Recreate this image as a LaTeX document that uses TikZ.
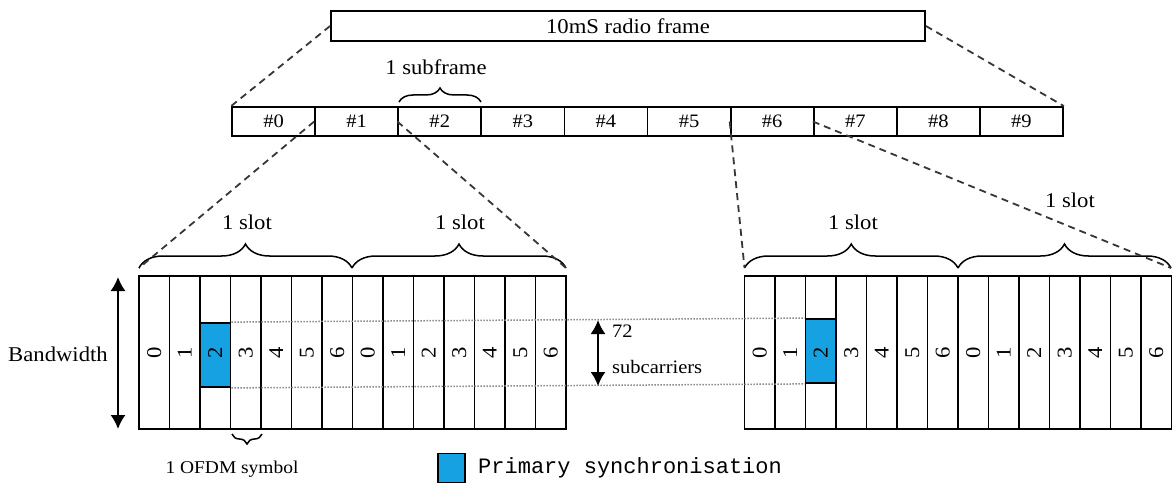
\documentclass[tikz,border=0pt]{standalone}
\usepackage{fontspec}
\setmainfont[FakeStretch=1.08]{Liberation Serif}
\newfontfamily\legendfont{Liberation Mono}
\usetikzlibrary{decorations.pathreplacing,arrows.meta}
\definecolor{psync}{RGB}{22,162,226}
\definecolor{dashc}{RGB}{55,55,55}
\begin{document}
\begin{tikzpicture}[x=1pt,y=-1pt,
  box/.style={draw,line width=1.8pt,inner sep=0pt,minimum height=29pt},
  sfbox/.style={box,minimum width=83.1pt,font=\fontsize{19}{20}\selectfont},
  cell/.style={draw,line width=1.8pt,inner sep=0pt,minimum width=30.5pt,minimum height=153pt,font=\fontsize{21}{22}\selectfont},
  psbox/.style={draw,fill=psync,line width=1.8pt,inner sep=0pt,minimum width=30.5pt,minimum height=64pt},
  zoomline/.style={dash pattern=on 7pt off 5pt,line width=1.8pt,draw=dashc},
  guide/.style={dash pattern=on 1.5pt off 1.5pt,line width=1.5pt,draw=gray!90},
  bracedec/.style={decorate,decoration={brace,amplitude=24pt},line width=1.5pt},
  lbl/.style={font=\fontsize{21}{22}\selectfont,inner sep=0pt},
  slbl/.style={font=\fontsize{19}{20}\selectfont,inner sep=0pt},
  dblarrow/.style={{Latex[length=14pt,width=15pt]}-{Latex[length=14pt,width=15pt]},line width=1.8pt}
]
\useasboundingbox (0,0) rectangle (1172,489);
% radio frame
\node[box,minimum width=594pt,minimum height=30pt,lbl] (frame) at (628,26) {10mS radio frame};
% subframes
\foreach \i in {0,...,9}{
  \node[sfbox] (sf\i) at ({232+83.1*\i+41.55},121.5) {\#\i};
}
\draw[zoomline] (frame.west) -- (sf0.north west);
\draw[zoomline] (frame.east) -- (sf9.north east);
\draw[decorate,decoration={brace,amplitude=14pt},line width=1.5pt] (399,102) -- (481,102);
\node[lbl] (sublbl) at (436,67) {1 subframe};
% blue primary sync cells
\node[psbox] (Lps) at ({139+30.5*2.5},355) {};
\node[psbox] (Rps) at ({744.5+30.5*2.5},351) {};
% left grid
\foreach \i in {0,...,13}{
  \pgfmathtruncatemacro\d{mod(\i,7)}
  \node[cell] (L\i) at ({139+30.5*\i+15.25},352.5) {\rotatebox{90}{\d}};
}
% right grid
\foreach \i in {0,...,13}{
  \pgfmathtruncatemacro\d{mod(\i,7)}
  \node[cell] (R\i) at ({744.5+30.5*\i+15.25},352.5) {\rotatebox{90}{\d}};
}
% dotted guides
\draw[guide] (Lps.north east) -- (Rps.north west);
\draw[guide] (Lps.south east) -- (Rps.south west);
% slot braces
\coordinate (Lb0) at (139,268);
\coordinate (Lb1) at (352,268);
\coordinate (Lb2) at (566,268);
\coordinate (Rb0) at (744.5,268);
\coordinate (Rb1) at (958,268);
\coordinate (Rb2) at (1171,268);
\draw[bracedec] (Lb0) -- (Lb1);
\draw[bracedec] (Lb1) -- (Lb2);
\draw[bracedec] (Rb0) -- (Rb1);
\draw[bracedec] (Rb1) -- (Rb2);
\node[lbl] (ls1) at (247,222) {1 slot};
\node[lbl] (ls2) at (460,222) {1 slot};
\node[lbl] (rs1) at (853,222) {1 slot};
\node[lbl] (rs2) at (1070,200) {1 slot};
% zoom lines to slots
\draw[zoomline] (sf1.west) -- (Lb0);
\draw[zoomline] (sf2.west) -- (Lb2);
\draw[zoomline] (sf6.west) -- (Rb0);
\draw[zoomline] (sf7.west) -- (Rb2);
% bandwidth
\coordinate (bwt) at (118,277);
\coordinate (bwb) at (118,429);
\draw[dblarrow] (bwt) -- (bwb);
\node[lbl] (bw) at (58,354) {Bandwidth};
% 72 subcarriers
\coordinate (sct) at (598,320);
\coordinate (scb) at (598,386);
\draw[dblarrow] (sct) -- (scb);
\node[slbl,anchor=west] (n72) at (612,331) {72};
\node[slbl,anchor=west] (nsc) at (612,367) {subcarriers};
% OFDM symbol
\draw[decorate,decoration={brace,amplitude=10pt},line width=1.5pt] (262,434) -- (232,434);
\node[font=\fontsize{18}{19}\selectfont,inner sep=0pt] (ofdm) at (232,469) {1 OFDM symbol};
% legend
\node[draw,fill=psync,line width=1.8pt,minimum width=27pt,minimum height=29pt,inner sep=0pt] (leg) at (451.5,468) {};
\node[font=\legendfont\fontsize{22}{23}\selectfont,inner sep=0pt,anchor=west] (legtxt) at (478,468) {Primary synchronisation};
\end{tikzpicture}
\end{document}
